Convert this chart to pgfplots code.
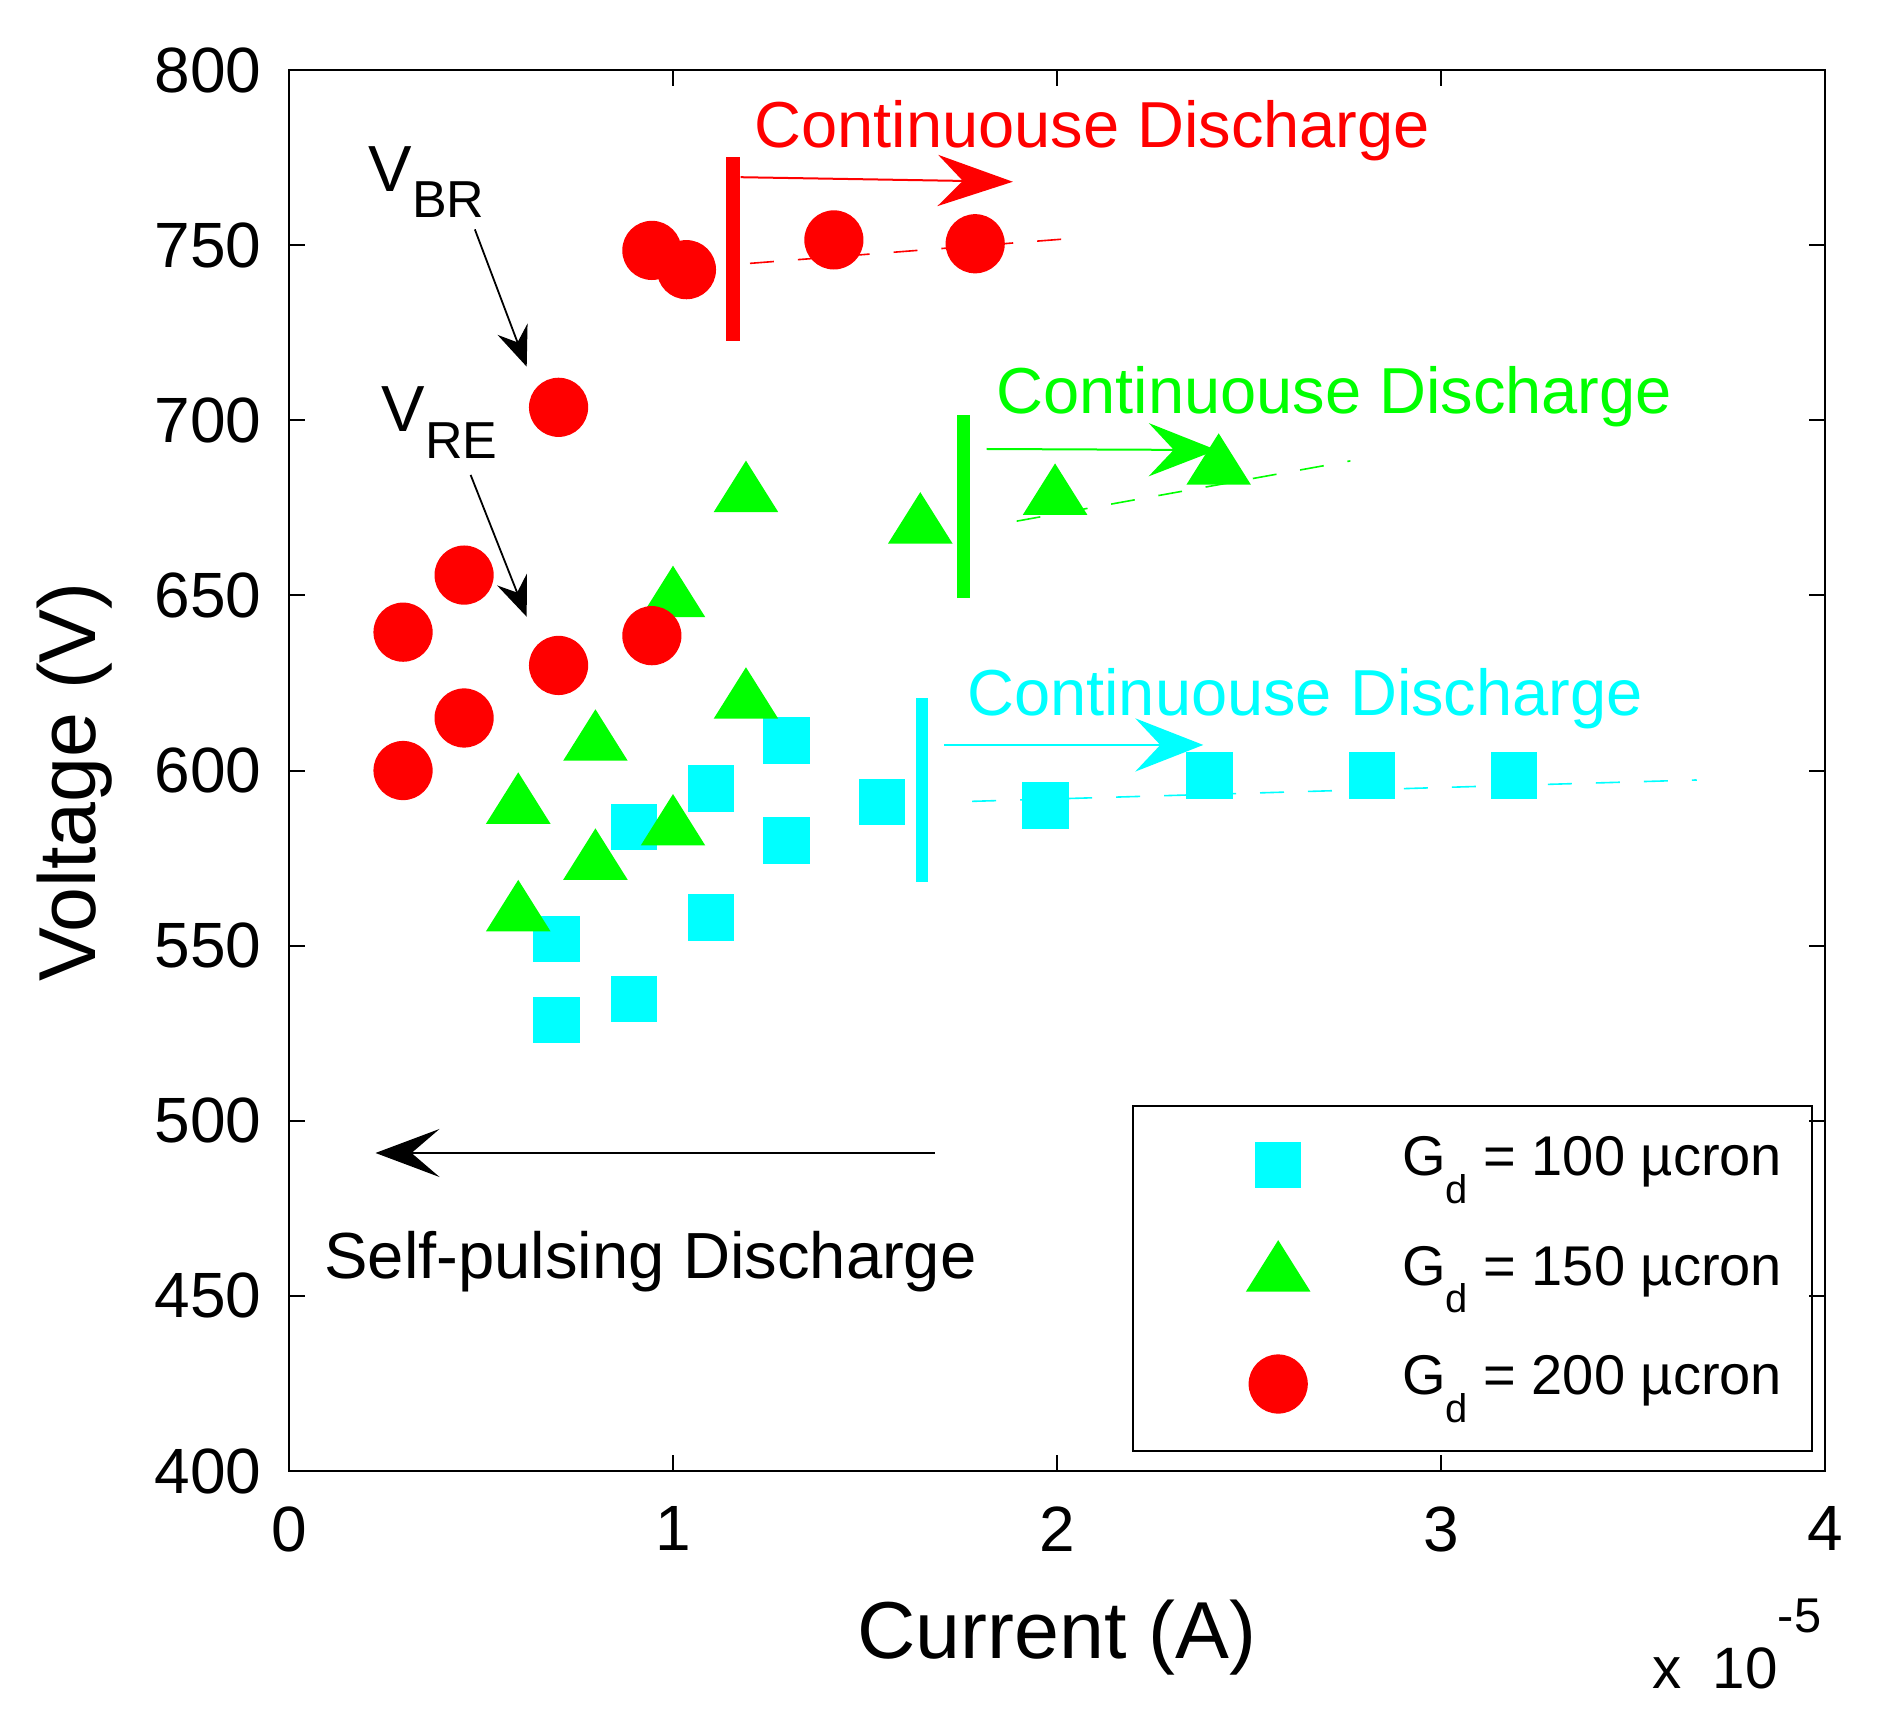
\documentclass[border=0pt]{standalone}
\usepackage{fontspec}
\setmainfont{Liberation Sans}
\usepackage{pgfplots}
\pgfplotsset{compat=1.18}
\usetikzlibrary{arrows.meta}
\definecolor{cyanC}{RGB}{0,255,255}
\definecolor{greenC}{RGB}{0,255,0}
\definecolor{redC}{RGB}{255,0,0}
\newcommand{\Gd}{G\raisebox{-6.9pt}{\fontsize{10}{10}\selectfont d}}
\begin{document}
\begin{tikzpicture}
\begin{axis}[
  scale only axis, width=384pt, height=350.25pt,
  xmin=0, xmax=4, ymin=400, ymax=800,
  xtick={0,1,2,3,4}, ytick={400,450,...,800},
  tick align=inside, major tick length=4pt,
  tick style={black, line width=0.5pt},
  axis line style={line width=0.6pt},
  /pgf/number format/assume math mode=true,
  tick label style={font=\fontsize{16}{16}\selectfont},
  xticklabel style={anchor=north, inner sep=0pt, yshift=-8.75pt},
  yticklabel style={anchor=east, inner sep=0pt, xshift=-6.75pt},
  clip=false,
  xlabel={Current (A)}, ylabel={Voltage (V)},
  label style={font=\fontsize{20.2}{20.2}\selectfont},
  xlabel style={at={(rel axis cs:0.5,0)}, anchor=base, yshift=-46.75pt},
  ylabel style={at={(rel axis cs:-0.1396,0.4918)}, anchor=center},
  legend style={at={(axis cs:2.199,504.1)}, anchor=north west, draw=none, fill=none,
    inner sep=0pt, yshift=-0.7pt, row sep=0pt, column sep=0pt,
    font=\fontsize{14}{14}\selectfont, nodes={inner sep=0pt, yshift=1.4pt}},
  legend cell align=left,
  legend image code/.code={\path[draw=none,fill=none] (0pt,-13.7pt) rectangle (67pt,13.7pt); \draw[#1] plot coordinates {(36pt,0pt)};},
]
% vertical bars
\addplot[redC, line width=3.5pt, forget plot] coordinates {(1.156,722.7) (1.156,775.3)};
\addplot[greenC, line width=3.2pt, forget plot] coordinates {(1.7575,649.2) (1.7575,701.4)};
\addplot[cyanC, line width=2.9pt, forget plot] coordinates {(1.648,568.2) (1.648,620.7)};
% colored arrows
\addplot[redC, line width=0.5pt, -{Stealth[length=18.75pt,width=12.8pt,inset=6.25pt]}, forget plot] coordinates {(1.176,769.4) (1.885,768.1)};
\addplot[greenC, line width=0.5pt, -{Stealth[length=17pt,width=13.3pt,inset=6.25pt]}, forget plot] coordinates {(1.817,691.8) (2.416,691.5)};
\addplot[cyanC, line width=0.5pt, -{Stealth[length=17pt,width=13.3pt,inset=6.25pt]}, forget plot] coordinates {(1.707,607.3) (2.381,607.3)};
% dashed fits
\addplot[redC, line width=0.4pt, dash pattern=on 6pt off 6pt, forget plot] coordinates {(1.2005,744.8) (2.06,752.1)};
\addplot[greenC, line width=0.4pt, dash pattern=on 6pt off 6pt, forget plot] coordinates {(1.895,671.2) (2.764,688.4)};
\addplot[cyanC, line width=0.4pt, dash pattern=on 6pt off 6pt, forget plot] coordinates {(1.779,591.2) (3.666,597.3)};
% black arrows
\addplot[black, line width=0.45pt, -{Stealth[length=10pt,width=8pt,inset=3.5pt]}, forget plot] coordinates {(0.484,754.5) (0.619,715.3)};
\addplot[black, line width=0.45pt, -{Stealth[length=10pt,width=8pt,inset=3.5pt]}, forget plot] coordinates {(0.473,684.4) (0.619,643.9)};
\addplot[black, line width=0.45pt, -{Stealth[length=16pt,width=12pt,inset=7pt]}, forget plot] coordinates {(1.682,490.8) (0.2253,490.8)};
% data
\addplot[only marks, mark=square*, mark size=5.6pt, color=cyanC] coordinates {
 (0.697,528.8) (0.697,551.9) (0.898,534.8) (0.898,583.9) (1.099,558) (1.099,594.9)
 (1.296,580) (1.296,608.6) (1.544,591) (1.97,590) (2.397,598.6) (2.82,598.6) (3.19,598.6)};
\addlegendentry{\Gd\ = 100 µcron}
\addplot[only marks, mark=triangle*, mark size=8.9pt, mark options={yscale=0.92}, color=greenC] coordinates {
 (0.597,559.0) (0.597,589.7) (0.798,573.7) (0.798,607.7) (1.0,583.5) (1.0,648.7)
 (1.19,619.7) (1.19,678.7) (1.644,669.7) (1.995,677.9) (2.421,686.5)};
\addlegendentry{\Gd\ = 150 µcron}
\addplot[only marks, mark=*, mark size=7.2pt, color=redC] coordinates {
 (0.297,600) (0.297,639.5) (0.456,615) (0.456,655.8) (0.702,630) (0.702,703.7)
 (0.945,638.5) (0.945,748.5) (1.035,743) (1.419,751.5) (1.787,750.4)};
\addlegendentry{\Gd\ = 200 µcron}
% legend frame
\draw[line width=0.5pt] (axis cs:2.199,504.1) rectangle (axis cs:3.966,405.7);
% annotations
\node[anchor=base west, inner sep=0pt, text=redC, font=\fontsize{16.25}{16.25}\selectfont] at (axis cs:1.21,777.9) {Continuouse Discharge};
\node[anchor=base west, inner sep=0pt, text=greenC, font=\fontsize{16.25}{16.25}\selectfont] at (axis cs:1.84,702) {Continuouse Discharge};
\node[anchor=base west, inner sep=0pt, text=cyanC, font=\fontsize{16.25}{16.25}\selectfont] at (axis cs:1.764,615.8) {Continuouse Discharge};
\node[anchor=base west, inner sep=0pt, font=\fontsize{16.3}{16.3}\selectfont] at (axis cs:0.09,455.1) {Self-pulsing Discharge};
\node[anchor=base west, inner sep=0pt, font=\fontsize{16.3}{16.3}\selectfont] at (axis cs:0.205,765.3) {V\raisebox{-6.5pt}{\fontsize{13}{13}\selectfont BR}};
\node[anchor=base west, inner sep=0pt, font=\fontsize{16.3}{16.3}\selectfont] at (axis cs:0.24,696.7) {V\raisebox{-6.65pt}{\fontsize{13}{13}\selectfont RE}};
\node[anchor=base east, inner sep=0pt, xshift=-0.75pt, yshift=-54.25pt, font=\fontsize{14.6}{14.6}\selectfont] at (rel axis cs:1,0) {x\hspace{0.53em}10\raisebox{14pt}{\fontsize{12.2}{12.2}\selectfont -5}};
\end{axis}
\pgfresetboundingbox
\path[use as bounding box] (-72.25pt,-64.5pt) rectangle (399.25pt,367.75pt);
\end{tikzpicture}
\end{document}
